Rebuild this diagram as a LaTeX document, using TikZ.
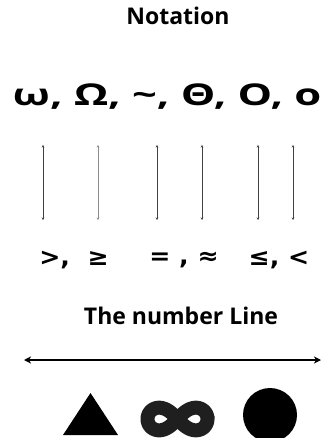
\documentclass[tikz,border=0pt]{standalone}
\usepackage{fontspec}
\setmainfont{Open Sans}
\newfontfamily\symfont{DejaVu Sans}
\usetikzlibrary{arrows.meta,positioning}

\begin{document}
\begin{tikzpicture}[x=1pt, y=-1pt, >=Stealth, every node/.style={align=center, inner sep=0pt}]

% styles
\tikzset{
  title/.style={font=\bfseries\fontsize{23}{26}\selectfont},
  bigsym/.style={font=\bfseries\fontsize{30}{34}\selectfont, xscale=1.45},
  relsym/.style={font=\symfont\bfseries\fontsize{24}{28}\selectfont, xscale=1.05},
  link/.style={{Stealth[length=2.5pt,width=2.5pt]}-{Stealth[length=2.5pt,width=2.5pt]}, line width=0.9pt, draw=black!75},
  numline/.style={{Stealth[length=7pt,width=7pt,inset=2pt]}-{Stealth[length=7pt,width=7pt,inset=2pt]}, line width=1.6pt}
}

\useasboundingbox (0,0) rectangle (327,438);

% headings and symbols
\node[title] (N) at (178,16) {Notation};
\node[bigsym] (G) at (167,97) {ω, Ω, \textasciitilde, Θ, O, o};

\node[relsym] (R1) at (74,260) {>, \ ≥};
\node[relsym] (R2) at (184,260) {= , ≈};
\node[relsym] (R3) at (279,260) {≤, <};

\node[title] (L) at (181,316) {The number Line};

% ends of the vertical links
\coordinate (t1) at (43,145);  \coordinate (b1) at (43,220);
\coordinate (t2) at (98,145);  \coordinate (b2) at (98,220);
\coordinate (t3) at (157,145); \coordinate (b3) at (157,220);
\coordinate (t4) at (202,145); \coordinate (b4) at (202,220);
\coordinate (t5) at (258,145); \coordinate (b5) at (258,220);
\coordinate (t6) at (293,145); \coordinate (b6) at (293,220);

\draw[link] (t1) -- (b1);
\draw[link, draw=black!45] (t2) -- (b2);
\draw[link] (t3) -- (b3);
\draw[link] (t4) -- (b4);
\draw[link] (t5) -- (b5);
\draw[link] (t6) -- (b6);

% the number line
\coordinate (left) at (24,360);
\coordinate (right) at (321,360);
\draw[numline] (left) -- (right);

% shapes below the line
\fill (63,435) -- (90.5,393) -- (118,435) -- cycle;
\draw[line width=14pt, black!88] plot[domain=0:360, samples=160, smooth cycle]
  ({177.5+30*cos(\x)/(1+sin(\x)^2)}, {419+32*sin(\x)*cos(\x)/(1+sin(\x)^2)});
\fill (270,415) circle (27);

\end{tikzpicture}
\end{document}
